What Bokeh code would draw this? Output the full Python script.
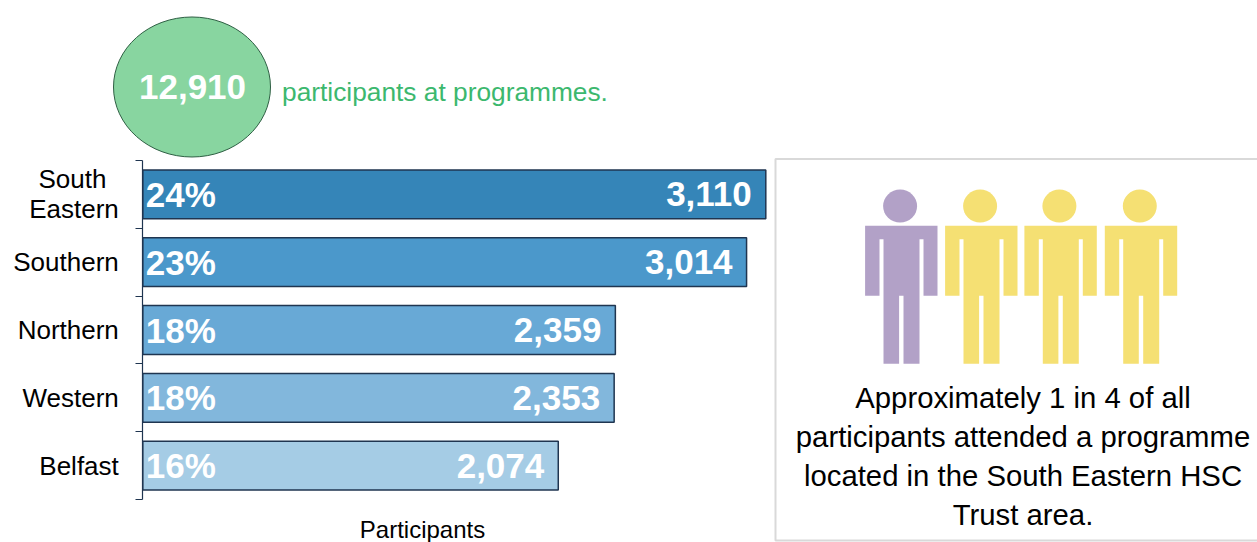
from bokeh.plotting import figure
from bokeh.models import LinearAxis, FixedTicker, Range1d
from bokeh.core.properties import value
from bokeh.embed import file_html
from bokeh.resources import INLINE

trusts = ["South\u00a0\u2009\nEastern", "Southern", "Northern", "Western", "Belfast"]
participants = [3110, 3014, 2359, 2353, 2074]
shares = ["24%", "23%", "18%", "18%", "16%"]
bar_colors = ["#3585B8", "#4B98CB", "#68A9D6", "#82B7DC", "#A5CCE5"]
value_labels = ["3,110", "3,014", "2,359", "2,353", "2,074"]
total_label = "12,910"
headline = "participants at programmes."
axis_title = "Participants"
note_lines = ["Approximately 1 in 4 of all",
              "participants attended a programme",
              "located in the South Eastern HSC",
              "Trust area."]
person_colors = ["#B2A1C7", "#F5E073", "#F5E073", "#F5E073"]

FONT = value("Liberation Sans")
NAVY = "#1F3550"
W, H = 1257, 542
SCALE = 623 / 3110            # pixels per participant
ORIGIN = 142.3
positions = [4.5 - i for i in range(len(trusts))]

p = figure(width=W, height=H, output_backend="svg", toolbar_location=None,
           x_range=Range1d(-ORIGIN / SCALE, (W - ORIGIN) / SCALE),
           y_range=Range1d(-43 / 67.8, 5 + 160 / 67.8),
           min_border=0, outline_line_color=None, x_axis_type=None, y_axis_type=None)
p.grid.visible = False
p.background_fill_color = "white"
p.extra_x_ranges["px"] = Range1d(0, W)
p.extra_y_ranges["px"] = Range1d(H, 0)

# pale panel
p.quad(left=[775], right=[1258], top=[158.5], bottom=[540], fill_color="white",
       line_color="#D9D9D9", line_width=2, x_range_name="px", y_range_name="px")

# bars
p.hbar(y=positions, right=participants, left=0, height=0.72, fill_color=bar_colors,
       line_color=NAVY, line_width=1.5)
p.text(x=[0] * 5, y=positions, text=shares, x_offset=3, text_align="left", text_baseline="middle",
       text_color="white", text_font=FONT, text_font_style="bold", text_font_size="35px")
p.text(x=participants, y=positions, text=value_labels, x_offset=-14, text_align="right",
       text_baseline="middle", text_color="white", text_font=FONT, text_font_style="bold",
       text_font_size="35px")

# category axis with ticks on the band edges
yaxis = LinearAxis(fixed_location=0, bounds=(0, 5),
                   ticker=FixedTicker(ticks=positions, minor_ticks=[0, 1, 2, 3, 4, 5]),
                   major_label_overrides=dict(zip(positions, trusts)),
                   major_tick_out=0, major_tick_in=0, minor_tick_out=7, minor_tick_in=0,
                   major_label_standoff=17, axis_line_color=NAVY, minor_tick_line_color=NAVY,
                   axis_line_width=1.2, minor_tick_line_width=1.2,
                   major_label_text_font="Liberation Sans", major_label_text_font_size="26px",
                   major_label_text_color="black", major_label_text_line_height=1.0)
p.add_layout(yaxis, "left")

# headline bubble
p.ellipse(x=[191.5], y=[86.5], width=[157], height=[140], fill_color="#88D5A0", line_color="#2F5F44",
          line_width=1, x_range_name="px", y_range_name="px")
p.text(x=[192], y=[86], text=[total_label], text_align="center", text_baseline="middle",
       text_color="white", text_font=FONT, text_font_style="bold", text_font_size="35px",
       x_range_name="px", y_range_name="px")
p.text(x=[281.5], y=[91], text=[headline], text_align="left", text_baseline="middle",
       text_color="#3CB86E", text_font=FONT, text_font_size="26.3px",
       x_range_name="px", y_range_name="px")

# axis title
p.text(x=[422], y=[529], text=[axis_title], text_align="center", text_baseline="middle",
       text_color="black", text_font=FONT, text_font_size="24px",
       x_range_name="px", y_range_name="px")

# pictogram: one figure per four participants
body_x = [865.3, 937.7, 937.7, 923.7, 923.7, 919.7, 919.7, 903.7, 903.7, 899.3, 899.3, 883.7, 883.7, 879.7, 879.7, 865.3]
body_y = [225.3, 225.3, 295.3, 295.3, 238.7, 238.7, 363.3, 363.3, 295.3, 295.3, 363.3, 363.3, 238.7, 238.7, 295.3, 295.3]
offsets = [-0.7, 79.3, 158.6, 239]
p.patches([[x + o for x in body_x] for o in offsets], [body_y] * 4, fill_color=person_colors,
          line_color=None, x_range_name="px", y_range_name="px")
p.ellipse(x=[900.3 + o for o in offsets], y=[205.6] * 4, width=[34] * 4, height=[33] * 4,
          fill_color=person_colors, line_color=None, x_range_name="px", y_range_name="px")

p.text(x=[1022.5] * 4, y=[397, 436, 475, 514], text=note_lines, text_align="center",
       text_baseline="middle", text_color="black", text_font=FONT, text_font_size="29.3px",
       x_range_name="px", y_range_name="px")

open("out.html", "w").write(file_html(p, INLINE))
